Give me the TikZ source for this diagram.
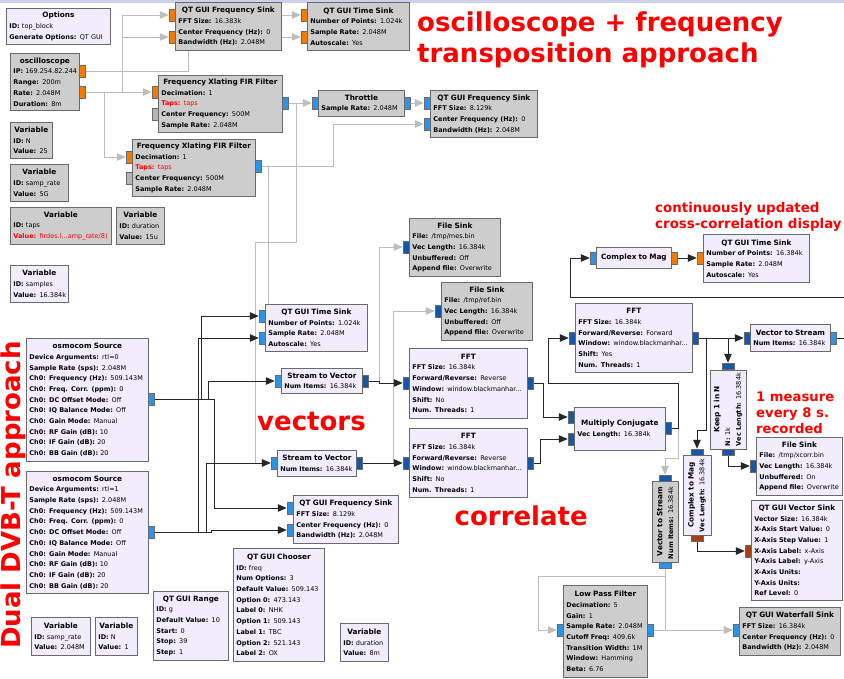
\documentclass[tikz,border=0pt]{standalone}
\usepackage{fontspec}
\setmainfont{DejaVu Sans}
\usepackage{tikz}
\usetikzlibrary{positioning,arrows.meta,backgrounds}
\usepackage{xcolor}

\definecolor{blkfill}{HTML}{F1EDFD}
\definecolor{offfill}{HTML}{CDCDCD}
\definecolor{blkline}{HTML}{6A6A6A}
\definecolor{pfloat}{HTML}{F27B00}
\definecolor{pcplx}{HTML}{2C93E6}
\definecolor{pcvec}{HTML}{1558A8}
\definecolor{pfvec}{HTML}{A8400E}
\definecolor{pmsg}{HTML}{B4B4B4}
\definecolor{wireoff}{HTML}{BDBDBD}
\definecolor{wireon}{HTML}{262626}
\definecolor{topbar}{HTML}{CFCFEE}
\definecolor{lblred}{HTML}{FF0000}

\newcommand{\blkttl}[1]{\hspace*{\fill}{\fontsize{7.3}{10.7}\selectfont\bfseries #1}\hspace*{\fill}\par}
\newcommand{\blkprm}[2]{\mbox{\textbf{#1:} #2}\par}
\newcommand{\blkred}[2]{\mbox{\color{lblred}\textbf{#1:} #2}\par}

\begin{document}
\begin{tikzpicture}[
    x=1pt, y=-1pt,
    blk/.style={
        draw=blkline,
        line width=0.8pt,
        fill=blkfill,
        anchor=north west,
        inner xsep=3pt,
        inner ysep=0pt,
        font=\fontsize{6.5}{10.7}\selectfont,
        execute at begin node={\fontsize{6.5}{10.7}\selectfont}
    },
    blkoff/.style={blk, fill=offfill},
    vblk/.style={blk, anchor=center, rotate=90},
    bsize/.style 2 args={text width=#1pt-6pt, minimum height=#2pt},
    port/.style={draw=blkline, line width=0.5pt, minimum width=6pt, minimum height=12pt, inner sep=0pt},
    vport/.style={port, minimum width=12pt, minimum height=6pt},
    won/.style={draw=wireon, line width=0.9pt, -{Triangle[length=9pt,width=7.5pt]}},
    woff/.style={draw=wireoff, line width=0.9pt, -{Triangle[length=9pt,width=7.5pt]}},
    lbl/.style={text=lblred, inner sep=0pt, align=left}
]
\useasboundingbox (0,0) rectangle (844,679);

\node[blk, bsize={104}{36}] (options) at (6,8) {\blkttl{Options}\blkprm{ID}{top\_block}\blkprm{Generate Options}{QT GUI}};
\node[blkoff, bsize={69}{57}] (osc) at (10,53) {\blkttl{oscilloscope}\blkprm{IP}{169.254.82.244}\blkprm{Range}{200m}\blkprm{Rate}{2.048M}\blkprm{Duration}{8m}};
\node[blkoff, bsize={106}{48}] (fsinkA) at (175,2) {\blkttl{QT GUI Frequency Sink}\blkprm{FFT Size}{16.383k}\blkprm{Center Frequency (Hz)}{0}\blkprm{Bandwidth (Hz)}{2.048M}};
\node[blkoff, bsize={102}{48}] (tsinkA) at (307,2) {\blkttl{QT GUI Time Sink}\blkprm{Number of Points}{1.024k}\blkprm{Sample Rate}{2.048M}\blkprm{Autoscale}{Yes}};
\node[blkoff, bsize={124}{57}] (xlatA) at (158,75) {\blkttl{Frequency Xlating FIR Filter}\blkprm{Decimation}{1}\blkred{Taps}{taps}\blkprm{Center Frequency}{500M}\blkprm{Sample Rate}{2.048M}};
\node[blkoff, bsize={123}{57}] (xlatB) at (132,139) {\blkttl{Frequency Xlating FIR Filter}\blkprm{Decimation}{1}\blkred{Taps}{taps}\blkprm{Center Frequency}{500M}\blkprm{Sample Rate}{2.048M}};
\node[blkoff, bsize={86}{26}] (throttle) at (318,90) {\blkttl{Throttle}\blkprm{Sample Rate}{2.048M}};
\node[blkoff, bsize={107}{47}] (fsinkB) at (430,90) {\blkttl{QT GUI Frequency Sink}\blkprm{FFT Size}{8.129k}\blkprm{Center Frequency (Hz)}{0}\blkprm{Bandwidth (Hz)}{2.048M}};
\node[blkoff, bsize={42}{36}] (varN) at (10,122) {\blkttl{Variable}\blkprm{ID}{N}\blkprm{Value}{25}};
\node[blkoff, bsize={58}{37}] (varRate) at (10,164) {\blkttl{Variable}\blkprm{ID}{samp\_rate}\blkprm{Value}{5G}};
\node[blkoff, bsize={101}{37}] (varTaps) at (10,207) {\blkttl{Variable}\blkprm{ID}{taps}\blkred{Value}{firdes.l...amp\_rate/8)}};
\node[blkoff, bsize={48}{37}] (varDur) at (116,207) {\blkttl{Variable}\blkprm{ID}{duration}\blkprm{Value}{15u}};
\node[blk, bsize={58}{37}] (varSmp) at (10,265) {\blkttl{Variable}\blkprm{ID}{samples}\blkprm{Value}{16.384k}};
\node[blk, bsize={122}{123}] (osmoA) at (26,338) {\blkttl{osmocom Source}\blkprm{Device Arguments}{rtl=0}\blkprm{Sample Rate (sps)}{2.048M}\blkprm{Ch0: Frequency (Hz)}{509.143M}\blkprm{Ch0: Freq. Corr. (ppm)}{0}\blkprm{Ch0: DC Offset Mode}{Off}\blkprm{Ch0: IQ Balance Mode}{Off}\blkprm{Ch0: Gain Mode}{Manual}\blkprm{Ch0: RF Gain (dB)}{10}\blkprm{Ch0: IF Gain (dB)}{20}\blkprm{Ch0: BB Gain (dB)}{20}};
\node[blk, bsize={122}{122}] (osmoB) at (26,471) {\blkttl{osmocom Source}\blkprm{Device Arguments}{rtl=1}\blkprm{Sample Rate (sps)}{2.048M}\blkprm{Ch0: Frequency (Hz)}{509.143M}\blkprm{Ch0: Freq. Corr. (ppm)}{0}\blkprm{Ch0: DC Offset Mode}{Off}\blkprm{Ch0: IQ Balance Mode}{Off}\blkprm{Ch0: Gain Mode}{Manual}\blkprm{Ch0: RF Gain (dB)}{10}\blkprm{Ch0: IF Gain (dB)}{20}\blkprm{Ch0: BB Gain (dB)}{20}};
\node[blk, bsize={102}{47}] (tsinkB) at (265,304) {\blkttl{QT GUI Time Sink}\blkprm{Number of Points}{1.024k}\blkprm{Sample Rate}{2.048M}\blkprm{Autoscale}{Yes}};
\node[blk, bsize={81}{25}] (stovA) at (281,368) {\blkttl{Stream to Vector}\blkprm{Num Items}{16.384k}};
\node[blk, bsize={79}{26}] (stovB) at (277,450) {\blkttl{Stream to Vector}\blkprm{Num Items}{16.384k}};
\node[blkoff, bsize={91}{58}] (fileMes) at (409,218) {\blkttl{File Sink}\blkprm{File}{/tmp/mes.bin}\blkprm{Vec Length}{16.384k}\blkprm{Unbuffered}{Off}\blkprm{Append file}{Overwrite}};
\node[blkoff, bsize={91}{58}] (fileRef) at (441,282) {\blkttl{File Sink}\blkprm{File}{/tmp/ref.bin}\blkprm{Vec Length}{16.384k}\blkprm{Unbuffered}{Off}\blkprm{Append file}{Overwrite}};
\node[blk, bsize={118}{70}] (fftA) at (409,348) {\blkttl{FFT}\blkprm{FFT Size}{16.384k}\blkprm{Forward/Reverse}{Reverse}\blkprm{Window}{window.blackmanhar...}\blkprm{Shift}{No}\blkprm{Num. Threads}{1}};
\node[blk, bsize={118}{69}] (fftB) at (409,428) {\blkttl{FFT}\blkprm{FFT Size}{16.384k}\blkprm{Forward/Reverse}{Reverse}\blkprm{Window}{window.blackmanhar...}\blkprm{Shift}{No}\blkprm{Num. Threads}{1}};
\node[blk, bsize={105}{48}] (fsinkC) at (293,495) {\blkttl{QT GUI Frequency Sink}\blkprm{FFT Size}{8.129k}\blkprm{Center Frequency (Hz)}{0}\blkprm{Bandwidth (Hz)}{2.048M}};
\node[blk, bsize={91}{113}] (chooser) at (233,548) {\blkttl{QT GUI Chooser}\blkprm{ID}{freq}\blkprm{Num Options}{3}\blkprm{Default Value}{509.143}\blkprm{Option 0}{473.143}\blkprm{Label 0}{NHK}\blkprm{Option 1}{509.143}\blkprm{Label 1}{TBC}\blkprm{Option 2}{521.143}\blkprm{Label 2}{OX}};
\node[blk, bsize={48}{38}] (varDurB) at (340,623) {\blkttl{Variable}\blkprm{ID}{duration}\blkprm{Value}{8m}};
\node[blk, bsize={75}{69}] (range) at (153,591) {\blkttl{QT GUI Range}\blkprm{ID}{g}\blkprm{Default Value}{10}\blkprm{Start}{0}\blkprm{Stop}{39}\blkprm{Step}{1}};
\node[blk, bsize={59}{38}] (varRateB) at (31,617) {\blkttl{Variable}\blkprm{ID}{samp\_rate}\blkprm{Value}{2.048M}};
\node[blk, bsize={42}{38}] (varNB) at (95,617) {\blkttl{Variable}\blkprm{ID}{N}\blkprm{Value}{1}};
\node[blk, bsize={75}{21}] (magA) at (596,247) {\blkttl{Complex to Mag}};
\node[blk, bsize={106}{48}] (tsinkC) at (703,234) {\blkttl{QT GUI Time Sink}\blkprm{Number of Points}{16.384k}\blkprm{Sample Rate}{2.048M}\blkprm{Autoscale}{Yes}};
\node[blk, bsize={117}{69}] (fftC) at (575,303) {\blkttl{FFT}\blkprm{FFT Size}{16.384k}\blkprm{Forward/Reverse}{Forward}\blkprm{Window}{window.blackmanhar...}\blkprm{Shift}{Yes}\blkprm{Num. Threads}{1}};
\node[blk, bsize={80}{27}] (vtosA) at (750,324) {\blkttl{Vector to Stream}\blkprm{Num Items}{16.384k}};
\node[blk, bsize={91}{43}] (mulconj) at (574,407) {\blkttl{Multiply Conjugate}\blkprm{Vec Length}{16.384k}};
\node[blk, bsize={86}{58}] (fileXcorr) at (756,437) {\blkttl{File Sink}\blkprm{File}{/tmp/xcorr.bin}\blkprm{Vec Length}{16.384k}\blkprm{Unbuffered}{On}\blkprm{Append file}{Overwrite}};
\node[blk, bsize={91}{100}] (vsink) at (751,500) {\blkttl{QT GUI Vector Sink}\blkprm{Vector Size}{16.384k}\blkprm{X-Axis Start Value}{0}\blkprm{X-Axis Step Value}{1}\blkprm{X-Axis Label}{x-Axis}\blkprm{Y-Axis Label}{y-Axis}\blkprm{X-Axis Units}{}\blkprm{Y-Axis Units}{}\blkprm{Ref Level}{0}};
\node[blkoff, bsize={84}{92}] (lowpass) at (563,585) {\blkttl{Low Pass Filter}\blkprm{Decimation}{5}\blkprm{Gain}{1}\blkprm{Sample Rate}{2.048M}\blkprm{Cutoff Freq}{409.6k}\blkprm{Transition Width}{1M}\blkprm{Window}{Hamming}\blkprm{Beta}{6.76}};
\node[blkoff, bsize={101}{48}] (waterfall) at (739,607) {\blkttl{QT GUI Waterfall Sink}\blkprm{FFT Size}{16.384k}\blkprm{Center Frequency (Hz)}{0}\blkprm{Bandwidth (Hz)}{2.048M}};
\node[vblk, bsize={79}{36}] (keep) at (728,409.5) {\blkttl{Keep 1 in N}\blkprm{N}{1k}\blkprm{Vec Length}{16.384k}};
\node[vblk, bsize={80}{28}] (magB) at (697,495) {\blkttl{Complex to Mag}\blkprm{Vec Length}{16.384k}};
\node[vblk, bsize={81}{26}, fill=offfill] (vtosB) at (665,521.5) {\blkttl{Vector to Stream}\blkprm{Num Items}{16.384k}};

\foreach \pname/\px/\py/\pcol in {
    oscA/82/71/pfloat, oscB/82/92/pfloat,
    fsA1/172/15/pfloat, fsA2/172/37/pfloat,
    tsA1/304/15/pfloat, tsA2/304/37/pfloat,
    xlA1/155/92/pfloat, xlA2/155/114/pmsg, xlAo/285/103/pcplx,
    xlB1/129/157/pfloat, xlB2/129/178/pmsg, xlBo/258/166/pcplx,
    thri/315/103/pcplx, thro/407/103/pcplx,
    fsB1/427/103/pcplx, fsB2/427/124/pcplx,
    osmAo/151/399/pcplx, osmBo/151/532/pcplx,
    tsB1/262/316/pcplx, tsB2/262/338/pcplx,
    stovAi/278/381/pcplx, stovAo/365/381/pcvec,
    stovBi/274/463/pcplx, stovBo/359/463/pcvec,
    fileMi/406/247/pcvec, fileRi/438/311/pcvec,
    fftAi/406/383/pcvec, fftAo/530/383/pcvec,
    fftBi/406/463/pcvec, fftBo/530/463/pcvec,
    fsC1/290/508/pcplx, fsC2/290/530/pcplx,
    magAi/593/258/pcplx, magAo/674/258/pfloat,
    tsCi/700/258/pfloat,
    fftCi/572/338/pcvec, fftCo/695/338/pcvec,
    vtosAi/747/338/pcvec, vtosAo/833/338/pcplx,
    mulc1/571/417/pcvec, mulc2/571/439/pcvec, mulco/668/428/pcvec,
    fileXi/753/466/pcvec, vsinki/748/551/pfvec,
    lpfi/560/630/pcplx, lpfo/650/630/pcplx,
    wfsi/736/630/pcplx}
    \node[port, fill=\pcol] (\pname) at (\px,\py) {};
\foreach \pname/\px/\py/\pcol in {
    keepi/728/366/pcvec, keepo/728/452/pcvec,
    magBi/697/452/pcvec, magBo/697/538/pfvec,
    vtosBi/665/478/pcvec, vtosBo/665/565/pcplx}
    \node[vport, fill=\pcol] (\pname) at (\px,\py) {};

\coordinate (edgeA) at (844,297);
\coordinate (edgeB) at (844,338);

\node[lbl, anchor=north west, font=\fontsize{26}{31}\selectfont\bfseries] (lblOsc) at (417,12) {oscilloscope + frequency\\transposition approach};
\node[lbl, anchor=north west, font=\fontsize{13.4}{16}\selectfont\bfseries] (lblXcorr) at (655,202) {continuously updated\\cross-correlation display};
\node[lbl, anchor=base west, font=\fontsize{26}{31}\selectfont\bfseries] (lblVec) at (257,430) {vectors};
\node[lbl, anchor=base west, font=\fontsize{26}{31}\selectfont\bfseries] (lblCorr) at (454.5,525) {correlate};
\node[lbl, anchor=north west, font=\fontsize{13.2}{16}\selectfont\bfseries] (lblRec) at (756,392) {1 measure\\every 8 s.\\recorded};
\node[lbl, anchor=base, rotate=90, font=\fontsize{26}{31}\selectfont\bfseries] (lblDual) at (20,495) {Dual DVB-T approach};

\begin{pgfonlayer}{background}
\fill[white] (0,0) rectangle (844,679);
\fill[topbar] (0,0) rectangle (844,3);
\draw[woff] (oscA.east) -| (188,15) -- (tsA1.west);
\draw[woff] (oscA.east) -| (188,37) -- (tsA2.west);
\draw[woff] (oscB.east) -| (122,15) -- (fsA1.west);
\draw[woff] (oscB.east) -| (122,37) -- (fsA2.west);
\draw[woff] (oscB.east) -- (xlA1.west);
\draw[woff] (oscB.east) -| (104,157) -- (xlB1.west);
\draw[woff] (xlAo.east) -- (thri.west);
\draw[woff] (xlAo.east) -| (296,242) -| (255,463) -- (stovBi.west);
\draw[woff, -] (xlBo.east) -| (268,320);
\draw[woff] (xlBo.east) -| (333,124) -- (fsB2.west);
\draw[woff] (thro.east) -- (fsB1.west);
\draw[woff] (stovAo.east) -| (379,247) -- (fileMi.west);
\draw[woff] (stovBo.east) -| (393,311) -- (fileRi.west);
\draw[woff] (mulco.east) -| (678,458) -| (vtosBi.north);
\draw[woff] (vtosBo.south) |- (538,576) |- (lpfi.west);
\draw[woff] (vtosBo.south) |- (wfsi.west);
\draw[woff] (lpfo.east) -- (wfsi.west);
\draw[won] (osmAo.east) -| (201,316) -- (tsB1.west);
\draw[won] (osmAo.east) -| (208,381) -- (stovAi.west);
\draw[won] (osmAo.east) -| (214,508) -- (fsC1.west);
\draw[won] (osmBo.east) -| (198,338) -- (tsB2.west);
\draw[won] (osmBo.east) -| (206,463) -- (stovBi.west);
\draw[won] (osmBo.east) -| (211,530) -- (fsC2.west);
\draw[won] (stovAo.east) -| (379,383) -- (fftAi.west);
\draw[won] (stovBo.east) -- (fftBi.west);
\draw[won] (fftAo.east) -| (543,417) -- (mulc1.west);
\draw[won] (fftBo.east) -| (540,439) -- (mulc2.west);
\draw[won] (mulco.east) -| (678,383) -| (548,338) -- (fftCi.west);
\draw[won] (fftCo.east) -- (vtosAi.west);
\draw[won] (fftCo.east) -| (keepi.north);
\draw[won] (fftCo.east) -| (706,430) -| (magBi.north);
\draw[won] (keepo.south) |- (fileXi.west);
\draw[won] (magBo.south) |- (vsinki.west);
\draw[won] (edgeA) -| (570,258) -- (magAi.west);
\draw[won] (magAo.east) -- (tsCi.west);
\draw[won, -] (vtosAo.east) -- (edgeB);
\end{pgfonlayer}
\end{tikzpicture}
\end{document}
